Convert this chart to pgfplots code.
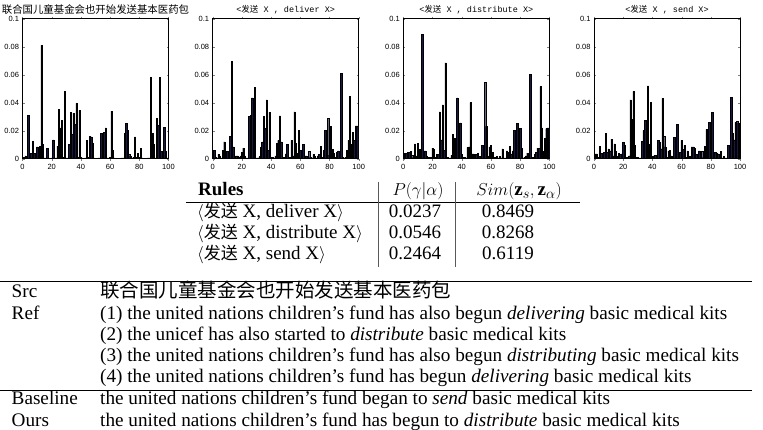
\documentclass[border=0pt]{standalone}
\usepackage{pgfplots}
\pgfplotsset{compat=1.18}
\usepackage{fontspec}
\setmainfont{Liberation Serif}
\newfontfamily\cjk{Noto Sans CJK SC}
\newfontfamily\helv{Liberation Sans}
\newfontfamily\mono{Liberation Mono}
\definecolor{barfill}{RGB}{24,24,66}
\definecolor{baredge}{RGB}{85,85,110}
\pgfplotsset{
  mbar/.style={
    scale only axis, width=146pt, height=140pt,
    xmin=0, xmax=100, ymin=0, ymax=0.1,
    xtick={0,20,40,60,80,100},
    ytick={0,0.02,0.04,0.06,0.08,0.1},
    yticklabels={0,0.02,0.04,0.06,0.08,0.1},
    scaled y ticks=false,
    tick align=inside, major tick length=2pt,
    ticklabel style={font=\helv\fontsize{7.5}{8}\selectfont},
    /pgf/number format/assume math mode=true,
    anchor=south west,
    axis line style={line width=0.6pt},
    title style={yshift=-5pt},
    ybar, bar width=0.9,
    cycle list={{fill=barfill, draw=baredge, line width=0.3pt}},
  }
}
\newcommand{\rt}[1]{{\mono<}{\cjk 发送}{\mono\ X , #1 X>}}
\begin{document}
\begin{tikzpicture}[x=1pt,y=1pt]
\path[use as bounding box] (0,0) rectangle (763,430);
% chart 1
\begin{axis}[mbar, at={(22.5pt,271.3pt)},
  title={\cjk\fontsize{10.4}{11}\selectfont 联合国儿童基金会也开始发送基本医药包}]
\addplot coordinates {(1,0.001)(2,0.002)(3,0.0005)(4,0.031)(5,0.001)(6,0.004)(7,0.0125)(8,0.004)(9,0.0005)(10,0.0085)(11,0.001)(12,0.009)(13,0.081)(14,0.010)(15,0.0005)(16,0.0005)(17,0.0075)(18,0.0005)(19,0.0003)(20,0.0005)(21,0.0135)(22,0.0005)(23,0.0005)(24,0.009)(25,0.035)(26,0.022)(27,0.0275)(28,0.001)(29,0.048)(30,0.0005)(31,0.0005)(32,0.010)(33,0.033)(34,0.0175)(35,0.0325)(36,0.0245)(37,0.0395)(38,0.001)(39,0.0345)(40,0.001)(41,0.0005)(42,0.0003)(43,0.0005)(44,0.013)(45,0.001)(46,0.016)(47,0.0155)(48,0.011)(49,0.0005)(50,0.0003)(51,0.0003)(52,0.0005)(53,0.0005)(54,0.018)(55,0.003)(56,0.019)(57,0.022)(58,0.0005)(59,0.0005)(60,0.001)(61,0.034)(62,0.006)(63,0.0005)(64,0.0003)(65,0.0003)(66,0.0003)(67,0.0003)(68,0.0005)(69,0.0005)(70,0.018)(71,0.025)(72,0.020)(73,0.003)(74,0.002)(75,0.0005)(76,0.001)(77,0.0155)(78,0.001)(79,0.004)(80,0.001)(81,0.0075)(82,0.0005)(83,0.0003)(84,0.0003)(85,0.0003)(86,0.0005)(87,0.0005)(88,0.058)(89,0.018)(90,0.010)(91,0.0005)(92,0.029)(93,0.024)(94,0.058)(95,0.005)(96,0.0005)(97,0.0225)(98,0.005)(99,0.0005)(100,0.0005)};
\end{axis}
% chart 2
\begin{axis}[mbar, at={(212.7pt,271.3pt)},
  title={\fontsize{8.5}{9}\selectfont\rt{deliver}}]
\addplot coordinates {(1,0.006)(2,0.001)(3,0.0005)(4,0.003)(5,0.002)(6,0.0005)(7,0.006)(8,0.012)(9,0.002)(10,0.005)(11,0.001)(12,0.016)(13,0.0695)(14,0.0085)(15,0.0005)(16,0.002)(17,0.002)(18,0.001)(19,0.002)(20,0.0045)(21,0.0075)(22,0.002)(23,0.0005)(24,0.0005)(25,0.030)(26,0.031)(27,0.0435)(28,0.005)(29,0.051)(30,0.0005)(31,0.0005)(32,0.0015)(33,0.008)(34,0.012)(35,0.030)(36,0.0215)(37,0.042)(38,0.006)(39,0.033)(40,0.001)(41,0.001)(42,0.0005)(43,0.002)(44,0.011)(45,0.013)(46,0.0305)(47,0.012)(48,0.0005)(49,0.001)(50,0.0035)(51,0.010)(52,0.0005)(53,0.001)(54,0.013)(55,0.002)(56,0.0335)(57,0.011)(58,0.004)(59,0.020)(60,0.006)(61,0.003)(62,0.010)(63,0.002)(64,0.002)(65,0.001)(66,0.005)(67,0.001)(68,0.0005)(69,0.003)(70,0.0015)(71,0.0005)(72,0.002)(73,0.003)(74,0.009)(75,0.001)(76,0.006)(77,0.020)(78,0.007)(79,0.029)(80,0.0025)(81,0.023)(82,0.0065)(83,0.004)(84,0.001)(85,0.0045)(86,0.0055)(87,0.002)(88,0.061)(89,0.001)(90,0.0005)(91,0.001)(92,0.006)(93,0.013)(94,0.0445)(95,0.010)(96,0.019)(97,0.013)(98,0.0235)(99,0.0235)(100,0.020)};
\end{axis}
% chart 3
\begin{axis}[mbar, at={(403.3pt,271.3pt)},
  title={\fontsize{8.5}{9}\selectfont\rt{distribute}}]
\addplot coordinates {(1,0.004)(2,0.004)(3,0.0045)(4,0.0045)(5,0.005)(6,0.0025)(7,0.001)(8,0.0105)(9,0.002)(10,0.011)(11,0.0065)(12,0.006)(13,0.089)(14,0.0055)(15,0.0055)(16,0.002)(17,0.001)(18,0.0005)(19,0.001)(20,0.0075)(21,0.0065)(22,0.001)(23,0.003)(24,0.003)(25,0.0335)(26,0.0135)(27,0.0385)(28,0.006)(29,0.0685)(30,0.001)(31,0.0005)(32,0.0005)(33,0.0025)(34,0.0175)(35,0.0145)(36,0.010)(37,0.0435)(38,0.003)(39,0.0255)(40,0.003)(41,0.001)(42,0.001)(43,0.0005)(44,0.008)(45,0.0085)(46,0.040)(47,0.0035)(48,0.0035)(49,0.001)(50,0.003)(51,0.004)(52,0.0015)(53,0.001)(54,0.0095)(55,0.0015)(56,0.0545)(57,0.023)(58,0.0015)(59,0.0085)(60,0.0095)(61,0.0045)(62,0.001)(63,0.001)(64,0.0015)(65,0.0005)(66,0.0015)(67,0.0005)(68,0.007)(69,0.0005)(70,0.0005)(71,0.0055)(72,0.0045)(73,0.009)(74,0.0035)(75,0.0055)(76,0.020)(77,0.001)(78,0.025)(79,0.0045)(80,0.0215)(81,0.0075)(82,0.0005)(83,0.001)(84,0.002)(85,0.004)(86,0.001)(87,0.060)(88,0.0005)(89,0.001)(90,0.003)(91,0.0045)(92,0.0075)(93,0.0075)(94,0.0515)(95,0.022)(96,0.005)(97,0.0145)(98,0.0215)(99,0.022)(100,0.022)};
\end{axis}
% chart 4
\begin{axis}[mbar, at={(594pt,271.3pt)},
  title={\fontsize{8.5}{9}\selectfont\rt{send}}]
\addplot coordinates {(1,0.0035)(2,0.0035)(3,0.001)(4,0.009)(5,0.004)(6,0.004)(7,0.0045)(8,0.018)(9,0.0045)(10,0.007)(11,0.0055)(12,0.014)(13,0.002)(14,0.0105)(15,0.005)(16,0.0015)(17,0.004)(18,0.003)(19,0.0035)(20,0.0115)(21,0.0095)(22,0.001)(23,0.001)(24,0.002)(25,0.042)(26,0.028)(27,0.048)(28,0.0095)(29,0.001)(30,0.001)(31,0.0005)(32,0.0005)(33,0.0125)(34,0.020)(35,0.0275)(36,0.003)(37,0.052)(38,0.010)(39,0.040)(40,0.0015)(41,0.002)(42,0.0025)(43,0.0025)(44,0.013)(45,0.012)(46,0.007)(47,0.043)(48,0.016)(49,0.0085)(50,0.001)(51,0.0055)(52,0.006)(53,0.002)(54,0.0005)(55,0.015)(56,0.004)(57,0.0245)(58,0.0045)(59,0.0045)(60,0.013)(61,0.0065)(62,0.0095)(63,0.001)(64,0.0055)(65,0.002)(66,0.0015)(67,0.0085)(68,0.0085)(69,0.0075)(70,0.003)(71,0.001)(72,0.0055)(73,0.001)(74,0.005)(75,0.001)(76,0.009)(77,0.021)(78,0.0055)(79,0.026)(80,0.007)(81,0.033)(82,0.0045)(83,0.0045)(84,0.004)(85,0.0035)(86,0.001)(87,0.005)(88,0.0005)(89,0.0015)(90,0.0005)(91,0.0005)(92,0.0095)(93,0.0095)(94,0.044)(95,0.018)(96,0.0135)(97,0.026)(98,0.0265)(99,0.0255)(100,0.023)};
\end{axis}
% ---- table ----
\begin{scope}[every node/.style={inner sep=0pt, font=\fontsize{19}{20}\selectfont}]
\node[anchor=base west] at (198,234) {\textbf{Rules}};
\node[anchor=base] at (418,234) {$P(\gamma|\alpha)$};
\node[anchor=base] at (519,234) {$Sim(\mathbf{z}_s,\mathbf{z}_\alpha)$};
\draw[line width=0.8pt] (186,227.7) -- (580,227.7);
\draw[line width=0.7pt, black!65] (378,248) -- (378,163);
\draw[line width=0.7pt, black!65] (455.7,248) -- (455.7,163);
\node[anchor=base west] at (197,212.3) {$\langle${\cjk\fontsize{17}{18}\selectfont 发送} X, deliver X$\rangle$};
\node[anchor=base west] at (197,191.7) {$\langle${\cjk\fontsize{17}{18}\selectfont 发送} X, distribute X$\rangle$};
\node[anchor=base west] at (197,170.7) {$\langle${\cjk\fontsize{17}{18}\selectfont 发送} X, send X$\rangle$};
\node[anchor=base] at (415,212.3) {0.0237};
\node[anchor=base] at (415,191.7) {0.0546};
\node[anchor=base] at (415,170.7) {0.2464};
\node[anchor=base] at (508,212.3) {0.8469};
\node[anchor=base] at (508,191.7) {0.8268};
\node[anchor=base] at (508,170.7) {0.6119};
\end{scope}
% ---- examples ----
\begin{scope}[every node/.style={inner sep=0pt, anchor=base west, font=\fontsize{19.2}{20}\selectfont}]
\draw[line width=0.8pt] (0,149) -- (752,149);
\node at (11.5,132.3) {Src};
\node at (100,132.3) {\cjk\fontsize{19.5}{20}\selectfont 联合国儿童基金会也开始发送基本医药包};
\node at (11.5,110.7) {Ref};
\node at (100,110.7) {(1) the united nations children’s fund has also begun \textit{delivering} basic medical kits};
\node at (100,89) {(2) the unicef has also started to \textit{distribute} basic medical kits};
\node at (100,68.3) {(3) the united nations children’s fund has also begun \textit{distributing} basic medical kits};
\node at (100,47.7) {(4) the united nations children’s fund has begun \textit{delivering} basic medical kits};
\draw[line width=0.8pt] (0,40) -- (752,40);
\node at (11.5,25) {Baseline};
\node at (100,25) {the united nations children’s fund began to \textit{send} basic medical kits};
\node at (11.5,3.3) {Ours};
\node at (100,3.3) {the united nations children’s fund has begun to \textit{distribute} basic medical kits};
\end{scope}
\end{tikzpicture}
\end{document}
